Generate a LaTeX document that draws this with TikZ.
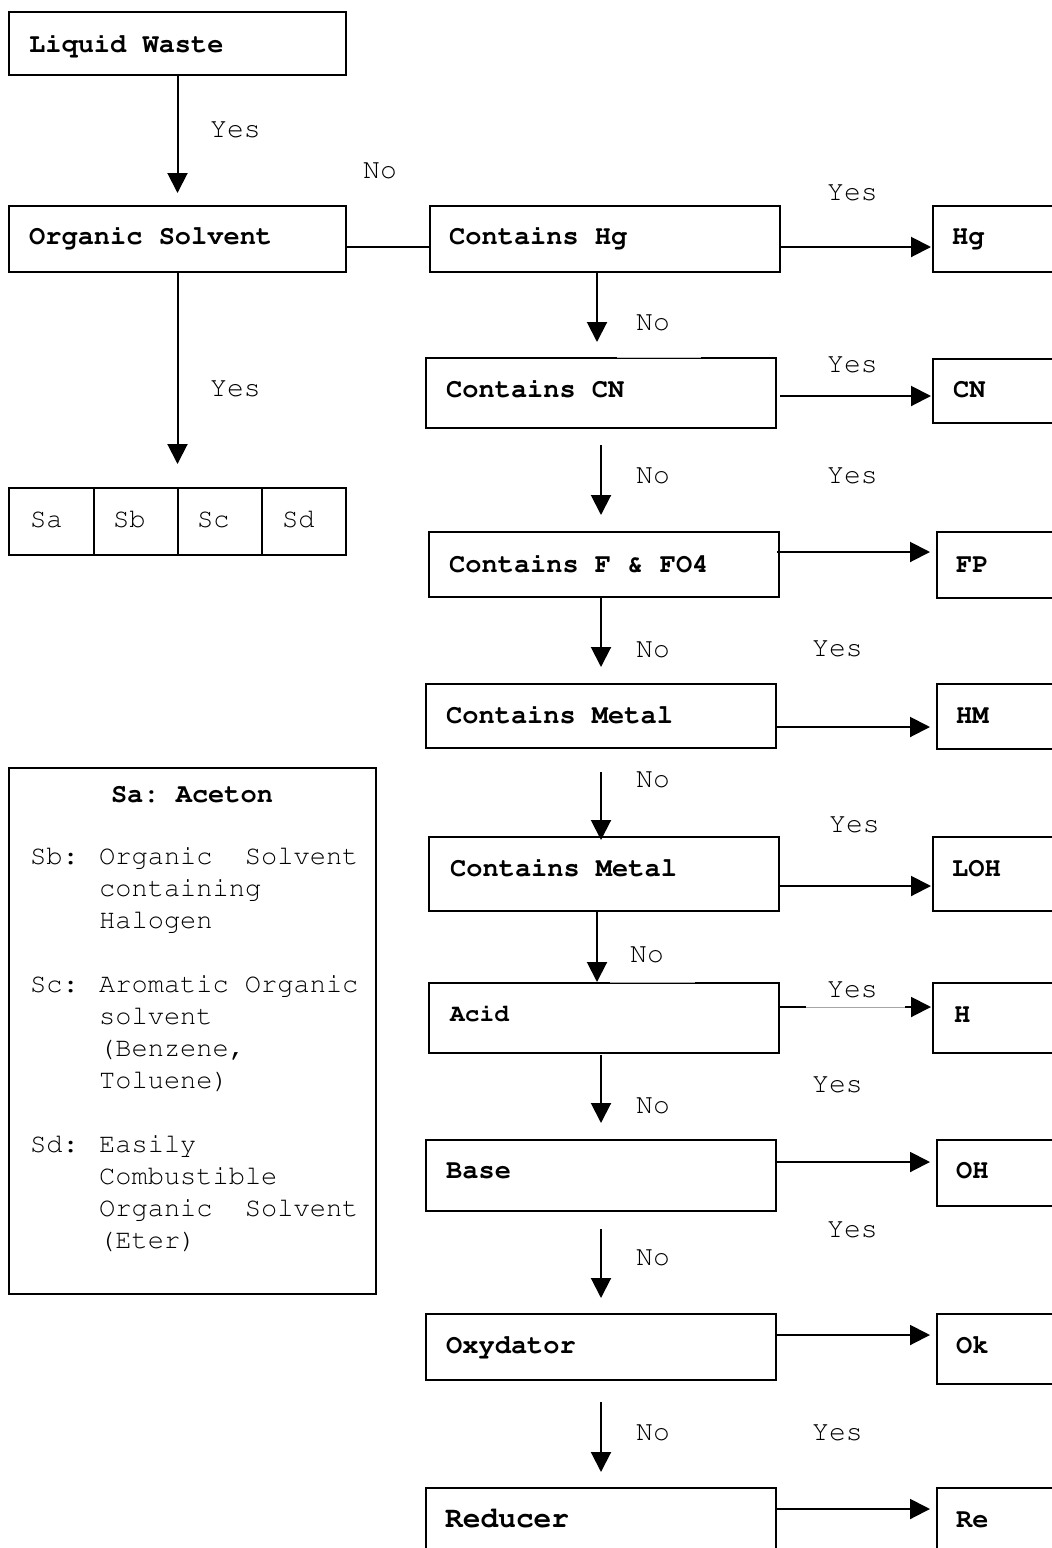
\documentclass[tikz,border=0pt]{standalone}
\usepackage[T1]{fontenc}
\usepackage{courier}
\renewcommand{\familydefault}{\ttdefault}
\usetikzlibrary{arrows.meta}
\begin{document}
\frenchspacing
\begin{tikzpicture}[x=1pt,y=-1pt,
  box/.style={draw, line width=2pt, inner sep=0pt, anchor=north west},
  boldtxt/.style={anchor=base west, inner sep=0pt, font=\fontsize{27}{32}\selectfont\bfseries},
  plaintxt/.style={anchor=base west, inner sep=0pt, font=\fontsize{27}{32}\selectfont},
  yn/.style={anchor=base west, inner sep=0pt, font=\fontsize{28}{32}\selectfont},
  arr/.style={line width=2pt, -{Triangle[length=20pt,width=20pt]}},
  link/.style={line width=2pt}
]
\useasboundingbox (0,0) rectangle (1052,1548);
\fill[white] (0,0) rectangle (1052,1548);

% ---------- left column ----------
\node[box, minimum width=337pt, minimum height=63pt] (lw) at (8,11) {};
\node[boldtxt] (lw-t) at (29,52) {Liquid Waste};
\node[box, minimum width=337pt, minimum height=66pt] (os) at (8,205) {};
\node[boldtxt] (os-t) at (29,244) {Organic Solvent};

\node[box, minimum width=85pt, minimum height=67pt] (sa) at (8,487) {};
\node[box, minimum width=84pt, minimum height=67pt] (sb) at (93,487) {};
\node[box, minimum width=84pt, minimum height=67pt] (sc) at (177,487) {};
\node[box, minimum width=84pt, minimum height=67pt] (sd) at (261,487) {};
\node[plaintxt] (sa-t) at (30,527) {Sa};
\node[plaintxt] (sb-t) at (113,527) {Sb};
\node[plaintxt] (sc-t) at (197,527) {Sc};
\node[plaintxt] (sd-t) at (282,527) {Sd};

\draw[arr, shorten >=12pt] (lw.south) -- (lw.south |- os.north);
\draw[arr, shorten >=23pt] (os.south) -- (os.south |- sb.north);
\node[yn] (yes-lw) at (210,137) {Yes};
\node[yn] (yes-os) at (210,396) {Yes};
\node[yn] (no-os) at (363,178) {No};

% legend
\node[box, line width=1.6pt, minimum width=367pt, minimum height=526pt] (legend) at (8,767) {};
\node[boldtxt, anchor=base] (sa-def) at (192,802) {Sa: Aceton};
\node[plaintxt] (sb-key) at (30,864) {Sb:};
\node[plaintxt] (sb-1) at (99,864) {Organic\ \ Solvent};
\node[plaintxt] (sb-2) at (99,896) {containing};
\node[plaintxt] (sb-3) at (99,928) {Halogen};
\node[plaintxt] (sc-key) at (30,992) {Sc:};
\node[plaintxt] (sc-1) at (99,992) {Aromatic Organic};
\node[plaintxt] (sc-2) at (99,1024) {solvent};
\node[plaintxt] (sc-3) at (99,1056) {(Benzene,};
\node[plaintxt] (sc-4) at (99,1088) {Toluene)};
\node[plaintxt] (sd-key) at (30,1152) {Sd:};
\node[plaintxt] (sd-1) at (99,1152) {Easily};
\node[plaintxt] (sd-2) at (99,1184) {Combustible};
\node[plaintxt] (sd-3) at (99,1216) {Organic\ \ Solvent};
\node[plaintxt] (sd-4) at (99,1248) {(Eter)};

% ---------- decision column ----------
\node[box, minimum width=350pt, minimum height=66pt] (chg) at (429,205) {};
\node[boldtxt] (chg-t) at (449,244) {Contains Hg};
\node[box, minimum width=350pt, minimum height=70pt] (ccn) at (425,357) {};
\node[boldtxt] (ccn-t) at (446,397) {Contains CN};
\node[box, minimum width=350pt, minimum height=65pt] (cf) at (428,531) {};
\node[boldtxt] (cf-t) at (449,572) {Contains F \& FO4};
\node[box, minimum width=350pt, minimum height=64pt] (cm1) at (425,683) {};
\node[boldtxt] (cm1-t) at (446,723) {Contains Metal};
\node[box, minimum width=350pt, minimum height=74pt] (cm2) at (428,836) {};
\node[boldtxt] (cm2-t) at (450,876) {Contains Metal};
\node[box, minimum width=350pt, minimum height=70pt] (acid) at (428,982) {};
\node[boldtxt, font=\fontsize{24.5}{30}\selectfont\bfseries] (acid-t) at (450,1021) {Acid};
\node[box, minimum width=350pt, minimum height=71pt] (base) at (425,1139) {};
\node[boldtxt] (base-t) at (446,1178) {Base};
\node[box, minimum width=350pt, minimum height=66pt] (oxy) at (425,1313) {};
\node[boldtxt] (oxy-t) at (446,1353) {Oxydator};
\node[box, minimum width=350pt, minimum height=80pt] (red) at (425,1487) {};
\node[boldtxt, font=\fontsize{29.5}{34}\selectfont\bfseries] (red-t) at (445,1527) {Reducer};

% ---------- result column ----------
\node[box, minimum width=140pt, minimum height=66pt] (rhg) at (932,205) {};
\node[boldtxt] (rhg-t) at (952,244) {Hg};
\node[box, minimum width=140pt, minimum height=64pt] (rcn) at (932,358) {};
\node[boldtxt] (rcn-t) at (953,397) {CN};
\node[box, minimum width=140pt, minimum height=66pt] (rfp) at (936,531) {};
\node[boldtxt] (rfp-t) at (956,572) {FP};
\node[box, minimum width=140pt, minimum height=65pt] (rhm) at (936,683) {};
\node[boldtxt] (rhm-t) at (956,723) {HM};
\node[box, minimum width=140pt, minimum height=74pt] (rloh) at (932,836) {};
\node[boldtxt] (rloh-t) at (952,876) {LOH};
\node[box, minimum width=140pt, minimum height=70pt] (rh) at (932,982) {};
\node[boldtxt] (rh-t) at (954,1022) {H};
\node[box, minimum width=140pt, minimum height=66pt] (roh) at (936,1139) {};
\node[boldtxt] (roh-t) at (956,1178) {OH};
\node[box, minimum width=140pt, minimum height=70pt] (rok) at (936,1313) {};
\node[boldtxt] (rok-t) at (956,1353) {Ok};
\node[box, minimum width=140pt, minimum height=80pt] (rre) at (936,1487) {};
\node[boldtxt] (rre-t) at (956,1527) {Re};

% ---------- connectors ----------
\draw[link] ([yshift=-42pt]os.north east) -- ([yshift=-42pt]os.north east -| chg.west);

% "No" branches, downwards
\draw[arr, shorten >=15pt] ([xshift=-8pt]chg.south) -- ([xshift=-8pt]chg.south |- ccn.north);
\draw[arr, shorten <=16pt, shorten >=16pt] (ccn.south) -- (ccn.south |- cf.north);
\draw[arr, shorten >=16pt] ([xshift=-3pt]cf.south) -- ([xshift=-3pt]cf.south |- cm1.north);
\draw[arr, shorten <=23pt, shorten >=-4pt] (cm1.south) -- (cm1.south |- cm2.north);
\draw[arr] ([xshift=-7pt]cm2.south) -- ([xshift=-7pt]cm2.south |- acid.north);
\draw[arr, shorten <=1pt, shorten >=16pt] ([xshift=-3pt]acid.south) -- ([xshift=-3pt]acid.south |- base.north);
\draw[arr, shorten <=17pt, shorten >=15pt] (base.south) -- (base.south |- oxy.north);
\draw[arr, shorten <=21pt, shorten >=15pt] (oxy.south) -- (oxy.south |- red.north);

% "Yes" branches, to the right
\draw[arr, shorten >=1pt] ([yshift=-42pt]chg.north east) -- ([yshift=-42pt]chg.north east -| rhg.west);
\draw[arr, shorten <=3pt, shorten >=1pt] ([yshift=-39pt]ccn.north east) -- ([yshift=-39pt]ccn.north east -| rcn.west);
\draw[arr, shorten <=-3pt, shorten >=6pt] ([yshift=-21pt]cf.north east) -- ([yshift=-21pt]cf.north east -| rfp.west);
\draw[arr, shorten >=6pt] ([yshift=-44pt]cm1.north east) -- ([yshift=-44pt]cm1.north east -| rhm.west);
\draw[arr, shorten >=1pt] ([yshift=-50pt]cm2.north east) -- ([yshift=-50pt]cm2.north east -| rloh.west);
\draw[arr, shorten >=1pt] ([yshift=-25pt]acid.north east) -- ([yshift=-25pt]acid.north east -| rh.west);
\draw[arr, shorten >=6pt] ([yshift=-23pt]base.north east) -- ([yshift=-23pt]base.north east -| roh.west);
\draw[arr, shorten >=6pt] ([yshift=-22pt]oxy.north east) -- ([yshift=-22pt]oxy.north east -| rok.west);
\draw[arr, shorten >=6pt] ([yshift=-22pt]red.north east) -- ([yshift=-22pt]red.north east -| rre.west);

% faint stretches where a label background covered the lines
\draw[white, line width=2.6pt] (617,357) -- (701,357);
\draw[gray!50, line width=0.6pt] (617,357) -- (701,357);
\draw[white, line width=2.6pt] (610,982) -- (695,982);
\draw[gray!70, line width=0.8pt] (610,982) -- (695,982);
\draw[white, line width=2.6pt] (806,1007) -- (905,1007);
\draw[gray!70, line width=0.8pt] (806,1007) -- (905,1007);

% branch labels
\node[yn] (yes-hg) at (827,200) {Yes};
\node[yn] (no-hg) at (636,330) {No};
\node[yn] (yes-cn) at (827,372) {Yes};
\node[yn] (no-cn) at (636,483) {No};
\node[yn] (yes-f) at (827,483) {Yes};
\node[yn] (no-f) at (636,657) {No};
\node[yn] (yes-m1) at (812,656) {Yes};
\node[yn] (no-m1) at (636,787) {No};
\node[yn] (yes-m2) at (829,832) {Yes};
\node[yn] (no-m2) at (630,962) {No};
\node[yn] (yes-acid) at (827,997) {Yes};
\node[yn] (no-acid) at (636,1113) {No};
\node[yn] (yes-base) at (812,1092) {Yes};
\node[yn] (no-base) at (636,1265) {No};
\node[yn] (yes-oxy) at (827,1237) {Yes};
\node[yn] (no-oxy) at (636,1440) {No};
\node[yn] (yes-red) at (812,1440) {Yes};
\end{tikzpicture}
\end{document}
